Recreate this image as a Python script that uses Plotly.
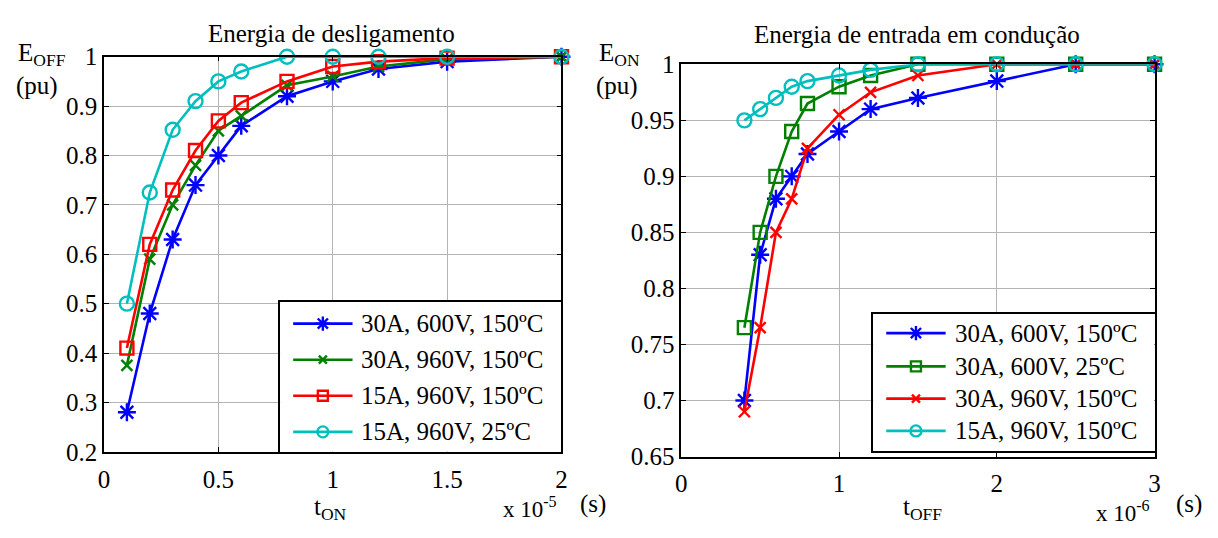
import plotly.graph_objects as go

# ---------------- data ----------------
# Turn-off energy (pu) vs t_ON (x 1e-5 s)
t_on = [0.1, 0.2, 0.3, 0.4, 0.5, 0.6, 0.8, 1.0, 1.2, 1.5, 2.0]
eoff_30a_600v_150 = [0.28, 0.48, 0.63, 0.74, 0.80, 0.86, 0.92, 0.95, 0.975, 0.99, 1.0]
eoff_30a_960v_150 = [0.375, 0.59, 0.70, 0.78, 0.85, 0.88, 0.942, 0.96, 0.98, 0.995, 1.0]
eoff_15a_960v_150 = [0.41, 0.62, 0.73, 0.81, 0.87, 0.907, 0.95, 0.98, 0.99, 0.997, 1.0]
eoff_15a_960v_25 = [0.50, 0.725, 0.852, 0.91, 0.95, 0.97, 1.0, 1.0, 1.0, 1.0, 1.0]

# Turn-on energy (pu) vs t_OFF (x 1e-6 s)
t_off = [0.4, 0.5, 0.6, 0.7, 0.8, 1.0, 1.2, 1.5, 2.0, 2.5, 3.0]
eon_30a_600v_150 = [0.70, 0.83, 0.88, 0.90, 0.92, 0.94, 0.96, 0.97, 0.985, 1.0, 1.0]
eon_30a_600v_25 = [0.765, 0.85, 0.90, 0.94, 0.965, 0.98, 0.99, 1.0, 1.0, 1.0, 1.0]
eon_30a_960v_150 = [0.69, 0.765, 0.85, 0.88, 0.925, 0.955, 0.975, 0.99, 1.0, 1.0, 1.0]
eon_15a_960v_150 = [0.95, 0.96, 0.97, 0.98, 0.985, 0.99, 0.995, 1.0, 1.0, 1.0, 1.0]

left_names = ["30A, 600V, 150ºC", "30A, 960V, 150ºC", "15A, 960V, 150ºC", "15A, 960V, 25ºC"]
right_names = ["30A, 600V, 150ºC", "30A, 600V, 25ºC", "30A, 960V, 150ºC", "15A, 960V, 150ºC"]

left_ticks_x = [0, 0.5, 1, 1.5, 2]
left_ticks_y = [0.2, 0.3, 0.4, 0.5, 0.6, 0.7, 0.8, 0.9, 1.0]
right_ticks_x = [0, 1, 2, 3]
right_ticks_y = [0.65, 0.7, 0.75, 0.8, 0.85, 0.9, 0.95, 1.0]

# ---------------- styles ----------------
W, H = 1218, 538
FONT = "Liberation Serif, Times New Roman, Times, serif"
BLUE, GREEN, RED, CYAN = "#0000ff", "#008000", "#ff0000", "#00bfbf"

STY = {
    "star": dict(symbol="asterisk-open", size=15),
    "x": dict(symbol="x-thin-open", size=11),
    "sq": dict(symbol="square-open", size=13),
    "o": dict(symbol="circle-open", size=14),
}

left_series = [
    (eoff_30a_600v_150, BLUE, "star"),
    (eoff_30a_960v_150, GREEN, "x"),
    (eoff_15a_960v_150, RED, "sq"),
    (eoff_15a_960v_25, CYAN, "o"),
]
right_series = [
    (eon_30a_600v_150, BLUE, "star"),
    (eon_30a_600v_25, GREEN, "sq"),
    (eon_30a_960v_150, RED, "x"),
    (eon_15a_960v_150, CYAN, "o"),
]


def px_x(x):
    return x / W


def px_y(y):
    return 1 - y / H


fig = go.Figure()


def add_series(xs, series, names, xa, ya):
    for (ys, col, mk), name in zip(series, names):
        m = STY[mk]
        fig.add_trace(go.Scatter(
            x=xs, y=ys, name=name, mode="lines+markers", xaxis=xa, yaxis=ya,
            line=dict(color=col, width=2.6),
            marker=dict(symbol=m["symbol"], size=m["size"], color=col,
                        line=dict(color=col, width=2.4)),
            cliponaxis=False, showlegend=False,
        ))


add_series(t_on, left_series, left_names, "x", "y")
add_series(t_off, right_series, right_names, "x2", "y2")


# ---------------- boxed legends drawn on small helper axes ----------------
def add_legend(series, names, xa, ya, rows):
    for (ys, col, mk), name, r in zip(series, names, rows):
        m = STY[mk]
        fig.add_trace(go.Scatter(
            x=[13, 73], y=[r, r], mode="lines", xaxis=xa, yaxis=ya,
            line=dict(color=col, width=2.6), showlegend=False, hoverinfo="skip"))
        fig.add_trace(go.Scatter(
            x=[43], y=[r], mode="markers", xaxis=xa, yaxis=ya,
            marker=dict(symbol=m["symbol"], size=m["size"] - 3, color=col,
                        line=dict(color=col, width=2.4)),
            showlegend=False, hoverinfo="skip"))
        fig.add_annotation(x=80, y=r, xref=xa, yref=ya, text=name, showarrow=False,
                           xanchor="left", yanchor="middle",
                           font=dict(family=FONT, size=25, color="black"))


add_legend(left_series, left_names, "x3", "y3", [23, 61, 99, 137])
add_legend(right_series, right_names, "x4", "y4", [20, 55, 89, 123])

grid = "#b4b4b4"
ax_common = dict(
    showline=True, linecolor="black", linewidth=1.5, mirror="ticks",
    ticks="inside", ticklen=5, tickcolor="black",
    showgrid=True, gridcolor=grid, gridwidth=1.2, zeroline=False,
    tickfont=dict(family=FONT, size=25, color="black"),
)
leg_common = dict(showline=True, linecolor="black", linewidth=1.5, mirror=True,
                  showgrid=False, zeroline=False, showticklabels=False, ticks="",
                  fixedrange=True)

fig.update_layout(
    width=W, height=H, autosize=False,
    margin=dict(l=0, r=0, t=0, b=0),
    paper_bgcolor="white", plot_bgcolor="white",
    showlegend=False,
    font=dict(family=FONT, color="black"),
    xaxis=dict(domain=[px_x(99), px_x(561)], range=[0, 2], anchor="y",
               tickvals=left_ticks_x, ticktext=["0", "0.5", "1", "1.5", "2"],
               ticklabelstandoff=4, **ax_common),
    yaxis=dict(domain=[px_y(462), px_y(46)], range=[0.2, 1], anchor="x",
               tickvals=left_ticks_y, ticktext=[f"{v:g}" for v in left_ticks_y], **ax_common),
    xaxis2=dict(domain=[px_x(682), px_x(1160)], range=[0, 3], anchor="y2",
                tickvals=right_ticks_x, ticktext=[str(v) for v in right_ticks_x],
                ticklabelstandoff=4, **ax_common),
    yaxis2=dict(domain=[px_y(467), px_y(54)], range=[0.65, 1], anchor="x2",
                tickvals=right_ticks_y, ticktext=[f"{v:g}" for v in right_ticks_y], **ax_common),
    xaxis3=dict(domain=[px_x(277), px_x(561)], range=[0, 284], anchor="y3", **leg_common),
    yaxis3=dict(domain=[px_y(462), px_y(304)], range=[158, 0], anchor="x3", **leg_common),
    xaxis4=dict(domain=[px_x(876), px_x(1160)], range=[0, 284], anchor="y4", **leg_common),
    yaxis4=dict(domain=[px_y(461), px_y(317)], range=[144, 0], anchor="x4", **leg_common),
)


def label(text, x, y, size=25, xanchor="center", yanchor="middle"):
    fig.add_annotation(x=px_x(x), y=px_y(y), xref="paper", yref="paper", text=text,
                       showarrow=False, xanchor=xanchor, yanchor=yanchor,
                       font=dict(family=FONT, size=size, color="black"))


# titles
label("Energia de desligamento", 329, 22)
label("Energia de entrada em condução", 920, 23)
# y labels
label("E<sub>OFF</sub>", 10, 44, xanchor="left")
label("(pu)", 8, 77, xanchor="left")
label("E<sub>ON</sub>", 597, 44, xanchor="left")
label("(pu)", 594, 77, xanchor="left")
# x labels
label("t<sub>ON</sub>", 328, 522)
label("x 10<sup>-5</sup>", 500, 521, size=23, xanchor="left")
label("(s)", 578, 517, xanchor="left")
label("t<sub>OFF</sub>", 926, 522)
label("x 10<sup>-6</sup>", 1099, 525, size=23, xanchor="left")
label("(s)", 1180, 517, xanchor="left")

fig.write_html("out.html")
